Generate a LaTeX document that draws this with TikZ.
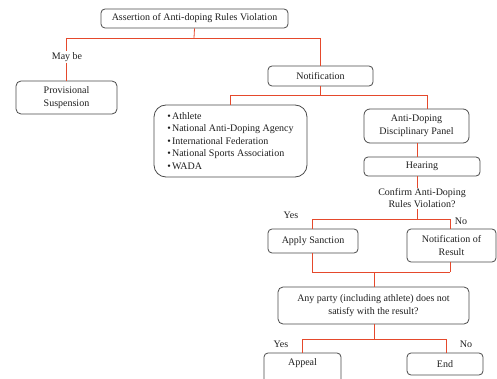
\documentclass[tikz,border=0pt]{standalone}
\usepackage{fontspec}
\setmainfont{Liberation Serif}
\definecolor{conncol}{HTML}{E5492C}
\definecolor{boxcol}{HTML}{4A4A4A}
\definecolor{txtcol}{HTML}{1E1E1E}
\newcommand{\bul}{\textbullet\kern1.2pt}
\begin{document}
\begin{tikzpicture}[x=1pt,y=-1pt,
  box/.style={draw=boxcol,line width=0.8pt,rounded corners=4pt,inner sep=0pt,align=center,
    text=txtcol,font=\fontsize{10}{12.5}\selectfont},
  lbl/.style={inner sep=1pt,align=center,text=txtcol,font=\fontsize{10}{12}\selectfont},
  conn/.style={draw=conncol,line width=0.8pt}]
\path[use as bounding box] (0,0) rectangle (497,379);
\clip (0,0) rectangle (497,379);
% boxes
\node[box,minimum width=187pt,minimum height=19pt] (top) at (194.5,18.5) {Assertion of Anti-doping Rules Violation};
\node[box,minimum width=101pt,minimum height=33pt,rounded corners=5pt] (prov) at (66.5,97.5) {Provisional\\Suspension};
\node[box,minimum width=105pt,minimum height=20pt] (notif) at (320.5,76) {Notification};
\node[box,minimum width=153pt,minimum height=72pt,rounded corners=12pt,align=left] (bullets) at (230.5,141)
  {\bul Athlete\\\bul National Anti-Doping Agency\\\bul International Federation\\\bul National Sports Association\\\bul WADA};
\node[box,minimum width=105pt,minimum height=34pt,rounded corners=6pt] (panel) at (416.5,126) {Anti-Doping\\Disciplinary Panel};
\node[box,minimum width=116pt,minimum height=19pt] (hearing) at (422,166.5) {Hearing};
\node[lbl] (confirm) at (422,198.5) {Confirm Anti-Doping\\Rules Violation?};
\node[box,minimum width=90pt,minimum height=24pt] (apply) at (313,241) {Apply Sanction};
\node[box,minimum width=89pt,minimum height=33pt] (notres) at (451.5,245.5) {Notification of\\Result};
\node[box,minimum width=191pt,minimum height=37pt,rounded corners=5pt] (any) at (373.5,305.5) {Any party (including athlete) does not\\satisfy with the result?};
\node[box,minimum width=77pt,minimum height=32pt,text depth=0pt] (appeal) at (302.5,369) {};
\node[lbl] (appealtxt) at (302.5,363.5) {Appeal};
\node[box,minimum width=76pt,minimum height=22pt] (end) at (445,364) {End};
% labels
\node[lbl] (maybe) at (67,57) {May be};
\node[lbl] (yes1) at (291,215) {Yes};
\node[lbl] (no1) at (461,221) {No};
\node[lbl] (yes2) at (281,344) {Yes};
\node[lbl] (no2) at (466,344) {No};
% junction coordinates
\coordinate (j1) at (194,38);
\coordinate (j2) at (321,95);
\coordinate (pj) at (427,95);
\coordinate (hx) at (417,0);
\coordinate (j3) at (417,219);
\coordinate (aj) at (312,0);
\coordinate (nj) at (450,0);
\coordinate (j4) at (374,272);
\coordinate (j5) at (374,339);
\coordinate (ej) at (446,0);
% connectors
\draw[conn] (top.south) -- (j1);
\draw[conn] (prov.north |- j1) -- (notif.north |- j1);
\draw[conn] (prov.north |- j1) -- (maybe.north -| prov.north);
\draw[conn] (maybe.south -| prov.north) -- (prov.north);
\draw[conn] (notif.north |- j1) -- (notif.north);
\draw[conn] (notif.south) -- (notif.south |- j2);
\draw[conn] (bullets.north |- j2) -- (pj);
\draw[conn] (bullets.north |- j2) -- (bullets.north);
\draw[conn] (pj) -- (pj |- panel.north);
\draw[conn] (hx |- panel.south) -- (hx |- hearing.north);
\draw[conn] (hx |- hearing.south) -- (hx |- confirm.north);
\draw[conn] (hx |- confirm.south) -- (j3);
\draw[conn] (aj |- j3) -- (nj |- j3);
\draw[conn] (aj |- j3) -- (aj |- apply.north);
\draw[conn] (nj |- j3) -- (nj |- notres.north);
\draw[conn] (aj |- apply.south) -- (aj |- j4);
\draw[conn] (nj |- notres.south) -- (nj |- j4);
\draw[conn] (aj |- j4) -- (nj |- j4);
\draw[conn] (j4) -- (j4 |- any.north);
\draw[conn] (any.south -| j5) -- (j5);
\draw[conn] (appeal.north |- j5) -- (ej |- j5);
\draw[conn] (appeal.north |- j5) -- (appeal.north);
\draw[conn] (ej |- j5) -- (ej |- end.north);
\end{tikzpicture}
\end{document}
